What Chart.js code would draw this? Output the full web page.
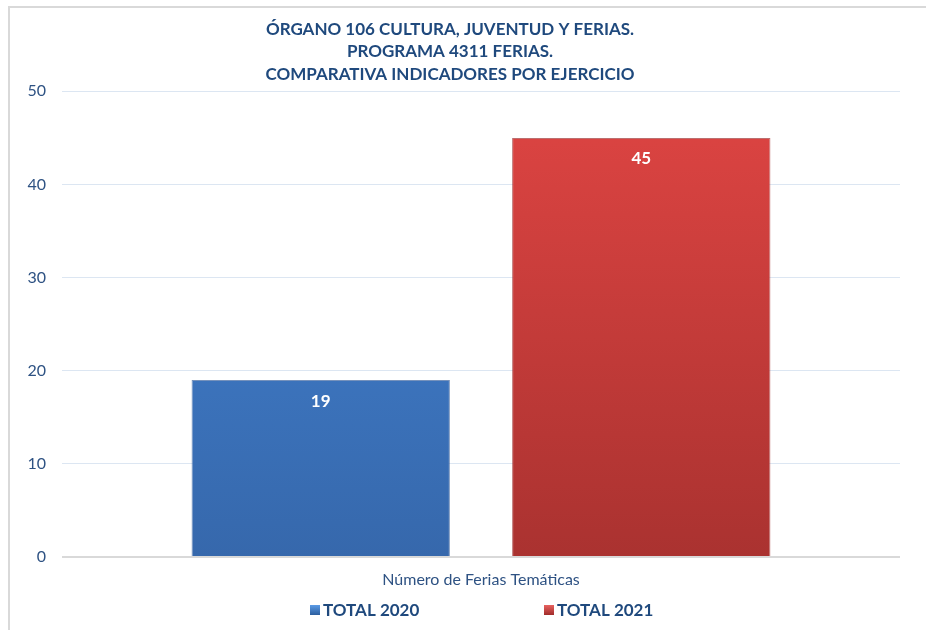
<!DOCTYPE html>
<html>
<head>
<meta charset="utf-8">
<script src="https://cdn.jsdelivr.net/npm/chart.js@4"></script>
<style>
  html, body { margin: 0; padding: 0; background: #fff; }
  #wrap { width: 926px; height: 630px; position: relative; }
</style>
</head>
<body>
<div id="wrap"><canvas id="chart-bar" width="926" height="630"></canvas></div>
<script>
const categories = ["Número de Ferias Temáticas"];
const seriesNames = ["TOTAL 2020", "TOTAL 2021"];
const total2020 = [19];
const total2021 = [45];
const titleLines = [
  "ÓRGANO 106 CULTURA, JUVENTUD Y FERIAS.",
  "PROGRAMA 4311 FERIAS.",
  "COMPARATIVA INDICADORES POR EJERCICIO"
];

const darkBlue = "#1F497D";
const tickBlue = "#2E5283";

function gradientFill(top, bottom) {
  return (ctx) => {
    const area = ctx.chart.chartArea;
    if (!area) return top;
    const g = ctx.chart.ctx.createLinearGradient(0, area.top, 0, area.bottom);
    g.addColorStop(0, top);
    g.addColorStop(1, bottom);
    return g;
  };
}

const frame = {
  id: "frame",
  beforeDraw(chart) {
    const c = chart.ctx;
    c.save();
    c.fillStyle = "#fff";
    c.fillRect(0, 0, chart.width, chart.height);
    c.strokeStyle = "#D9D9D9";
    c.lineWidth = 2;
    c.beginPath();
    c.moveTo(9, chart.height);
    c.lineTo(9, 7);
    c.lineTo(chart.width, 7);
    c.stroke();
    c.restore();
  }
};

const barLabels = {
  id: "barLabels",
  afterDatasetsDraw(chart) {
    const c = chart.ctx;
    c.save();
    c.font = "bold 17px Lato";
    c.fillStyle = "#fff";
    c.textAlign = "center";
    c.textBaseline = "middle";
    chart.data.datasets.forEach((ds, i) => {
      chart.getDatasetMeta(i).data.forEach((bar, j) => {
        c.fillText(ds.data[j], bar.x, bar.y + 21);
      });
    });
    c.restore();
  }
};

// legend drawn by hand so the two items can sit far apart
const bottomLegend = {
  id: "bottomLegend",
  afterDraw(chart) {
    const c = chart.ctx;
    const mid = (chart.chartArea.left + chart.chartArea.right) / 2;
    const offsets = [-171, 63];
    c.save();
    c.font = "bold 17px Lato";
    c.textBaseline = "middle";
    chart.data.datasets.forEach((ds, i) => {
      const x = mid + offsets[i];
      const y = 610;
      const g = c.createLinearGradient(0, y - 5, 0, y + 5);
      g.addColorStop(0, ds.legendTop);
      g.addColorStop(1, ds.legendBottom);
      c.fillStyle = g;
      c.fillRect(x, y - 5, 10, 10);
      c.fillStyle = darkBlue;
      c.fillText(ds.label, x + 13, y + 1);
    });
    c.restore();
  }
};

new Chart(document.getElementById("chart-bar"), {
  type: "bar",
  data: {
    labels: categories,
    datasets: [
      {
        label: seriesNames[0],
        data: total2020,
        backgroundColor: gradientFill("#4484D4", "#3668AC"),
        borderColor: "rgba(60,100,160,0.7)",
        borderWidth: 1,
        legendTop: "#5B9BE6",
        legendBottom: "#2C5E9E"
      },
      {
        label: seriesNames[1],
        data: total2021,
        backgroundColor: gradientFill("#DF4543", "#AA3230"),
        borderColor: "rgba(160,50,50,0.7)",
        borderWidth: 1,
        legendTop: "#E86260",
        legendBottom: "#A02C2A"
      }
    ]
  },
  options: {
    responsive: false,
    animation: false,
    layout: { padding: { left: 0, right: 26, top: 0, bottom: 28 } },
    datasets: {
      bar: { categoryPercentage: 0.765, barPercentage: 0.806 }
    },
    plugins: {
      legend: { display: false },
      tooltip: { enabled: false },
      title: {
        display: true,
        text: titleLines,
        color: darkBlue,
        font: { family: "Lato", size: 17, weight: "bold", lineHeight: 1.32 },
        padding: { top: 18, bottom: 6 }
      }
    },
    scales: {
      x: {
        grid: { display: false },
        border: { display: false },
        ticks: { color: tickBlue, font: { family: "Lato", size: 16 }, padding: 5 },
        afterFit(scale) { scale.height = 45; }
      },
      y: {
        min: 0,
        max: 50,
        ticks: { stepSize: 10, color: tickBlue, font: { family: "Lato", size: 16 }, padding: 16 },
        grid: {
          drawTicks: false,
          color: (ctx) => (ctx.tick.value === 0 ? "#D9D9D9" : "#DCE6F2"),
          lineWidth: (ctx) => (ctx.tick.value === 0 ? 2 : 1)
        },
        border: { display: false },
        afterFit(scale) { scale.width = 62; }
      }
    }
  },
  plugins: [frame, barLabels, bottomLegend]
});
</script>
</body>
</html>
